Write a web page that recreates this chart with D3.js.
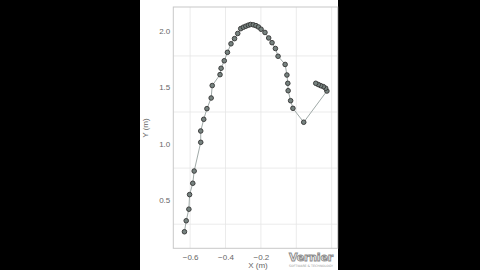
<!DOCTYPE html>
<html><head><meta charset="utf-8">
<script src="https://cdn.jsdelivr.net/npm/d3@7"></script>
<style>html,body{margin:0;padding:0;background:#000;}svg{display:block;}</style>
</head><body>
<script>
const xValues = [-0.632,-0.622,-0.607,-0.603,-0.585,-0.577,-0.540,-0.540,-0.523,-0.505,-0.481,-0.475,-0.431,-0.425,-0.407,-0.389,-0.369,-0.349,-0.331,-0.314,-0.299,-0.285,-0.271,-0.258,-0.243,-0.228,-0.214,-0.199,-0.177,-0.156,-0.137,-0.118,-0.103,-0.063,-0.053,-0.048,-0.046,-0.032,-0.019,0.042,0.173,0.166,0.153,0.138,0.124,0.110];
const yValues = [0.213,0.311,0.414,0.544,0.645,0.754,1.010,1.111,1.215,1.310,1.405,1.516,1.613,1.670,1.737,1.812,1.888,1.934,1.980,2.023,2.036,2.045,2.054,2.060,2.057,2.050,2.038,2.018,1.989,1.940,1.898,1.846,1.777,1.704,1.610,1.536,1.470,1.381,1.313,1.189,1.467,1.492,1.506,1.515,1.525,1.536];
const xTicks = [-0.6,-0.4,-0.2];
const xGrid = [-0.6,-0.4,-0.2,0.0,0.2];
const yTicks = [0.5,1.0,1.5,2.0];
const yGrid = [0.28,0.78,1.28,1.78];
const xLabel = "X (m)", yLabel = "Y (m)";

const W=480,H=270;
const svg=d3.select("body").append("svg").attr("width",W).attr("height",H);
svg.append("rect").attr("width",W).attr("height",H).attr("fill","#000");
svg.append("rect").attr("x",140).attr("y",0).attr("width",198).attr("height",H).attr("fill","#fff");

const L=173.3,R=337.7,T=7,B=248.3;
const x=d3.scaleLinear().domain([-0.695,0.234]).range([L,R]);
const y=d3.scaleLinear().domain([0.0655,2.216]).range([B,T]);

const g=svg.append("g");
g.selectAll(".vg").data(xGrid).join("line").attr("x1",d=>x(d)).attr("x2",d=>x(d)).attr("y1",T).attr("y2",B).attr("stroke","#e6e6e6").attr("stroke-width",0.8);
g.selectAll(".hg").data(yGrid).join("line").attr("y1",d=>y(d)).attr("y2",d=>y(d)).attr("x1",L).attr("x2",R).attr("stroke","#e6e6e6").attr("stroke-width",0.8);
g.append("rect").attr("x",L).attr("y",T).attr("width",R-L).attr("height",B-T).attr("fill","none").attr("stroke","#c8c8c8").attr("stroke-width",1);

const font="Liberation Sans, Arial, sans-serif";
const xa=svg.append("g").attr("transform",`translate(0,${B})`).call(d3.axisBottom(x).tickValues(xTicks).tickSize(0).tickPadding(6).tickFormat(d3.format(".1f")));
xa.select(".domain").remove();
xa.selectAll("text").attr("fill","#666").style("font-family",font).style("font-size","8px");
const ya=svg.append("g").attr("transform",`translate(${L},0)`).call(d3.axisLeft(y).tickValues(yTicks).tickSize(0).tickPadding(3).tickFormat(d3.format(".1f")));
ya.select(".domain").remove();
ya.selectAll("text").attr("fill","#666").style("font-family",font).style("font-size","8px");

svg.append("text").attr("x",258).attr("y",268).attr("text-anchor","middle").attr("fill","#666").style("font-family",font).style("font-size","8px").text(xLabel);
svg.append("text").attr("transform","translate(148,128) rotate(-90)").attr("text-anchor","middle").attr("fill","#666").style("font-family",font).style("font-size","8px").text(yLabel);

// Vernier logo
svg.append("text").attr("x",311).attr("y",261).attr("text-anchor","middle").attr("fill","#fff").attr("stroke","#8a8a8a").attr("stroke-width",0.9).style("font-family","DejaVu Sans, sans-serif").style("font-weight","bold").style("font-size","11px").style("letter-spacing","-0.2px").text("Vernier");
svg.append("text").attr("x",311).attr("y",266.5).attr("text-anchor","middle").attr("fill","#999").style("font-family","DejaVu Sans, sans-serif").style("font-size","3.2px").text("SOFTWARE & TECHNOLOGY");

const pts=xValues.map((v,i)=>[v,yValues[i]]);
svg.append("path").datum(pts).attr("d",d3.line().x(d=>x(d[0])).y(d=>y(d[1]))).attr("fill","none").attr("stroke","#a0aaa8").attr("stroke-width",1);
svg.selectAll(".pt").data(pts).join("circle").attr("cx",d=>x(d[0])).attr("cy",d=>y(d[1])).attr("r",2.3).attr("fill","#76827f").attr("stroke","#333").attr("stroke-width",0.9);
</script>
</body></html>
